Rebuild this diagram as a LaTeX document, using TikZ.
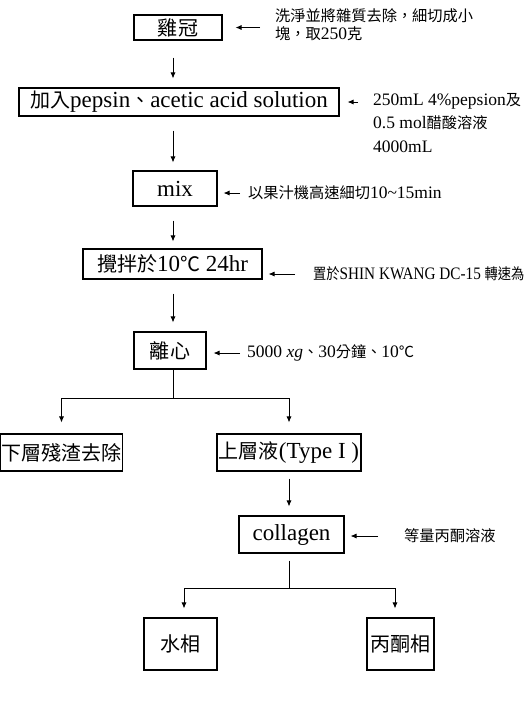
\documentclass[tikz,border=0pt]{standalone}
\usepackage{fontspec}
\setmainfont{Liberation Serif}
\newfontfamily\cjk[Scale=0.87]{Noto Sans CJK TC}
\usetikzlibrary{arrows.meta}
\tikzset{
  box/.style={draw, line width=1.1pt, inner sep=0pt, font=\fontsize{23}{26}\selectfont},
  note/.style={anchor=west, inner sep=0pt, align=left, font=\fontsize{17.5}{18}\selectfont},
  arr/.style={-{Latex[length=6pt,width=5pt]}, line width=0.8pt},
  ln/.style={line width=0.8pt}
}
\begin{document}
\begin{tikzpicture}[x=1pt,y=-1pt]
\useasboundingbox (0,0) rectangle (523,705);

% main chain
\node[box, minimum width=88pt, minimum height=25pt] (jg) at (178,27.5) {{\cjk 雞冠}};
\node[box, minimum width=320pt, minimum height=28pt] (jr) at (179,102) {{\cjk 加入}pepsin{\cjk 、}acetic acid solution};
\node[box, minimum width=84pt, minimum height=35pt] (mx) at (175,188.5) {mix};
\node[box, minimum width=179pt, minimum height=30pt] (jb) at (172.5,264) {{\cjk 攪拌於}10{\cjk ℃} 24hr};
\node[box, minimum width=72pt, minimum height=37pt] (lx) at (170,350.5) {{\cjk 離心}};
\node[box, minimum width=122pt, minimum height=37pt] (xc) at (61.5,452.5) {{\cjk 下層殘渣去除}};
\node[box, minimum width=144pt, minimum height=37pt] (sc) at (289,452.5) {{\cjk 上層液}(Type I )};
\node[box, minimum width=105pt, minimum height=37pt] (cg) at (291.5,534.5) {collagen};
\node[box, minimum width=73pt, minimum height=52pt] (ws) at (180.5,644) {{\cjk 水相}};
\node[box, minimum width=67pt, minimum height=52pt] (bt) at (400.5,644) {{\cjk 丙酮相}};

% side notes
\node[note] (nt1) at (275,24.5) {{\cjk 洗淨並將雜質去除，細切成小}\\{\cjk 塊，取}250{\cjk 克}};
\node[note, font=\fontsize{17.5}{23.5}\selectfont] (nt2) at (373,123) {250mL 4\%pepsion{\cjk 及}\\0.5 mol{\cjk 醋酸溶液}\\4000mL};
\node[note] (nt3) at (248,193) {{\cjk 以果汁機高速細切}10\textasciitilde15min};
\node[note] (nt4) at (313,274) {\scalebox{0.87}[1]{{\cjk 置於}SHIN KWANG DC-15 {\cjk 轉速為}}};
\node[note] (nt5) at (247,353) {5000 \textit{xg}{\cjk 、}30{\cjk 分鐘、}10{\cjk ℃}};
\node[note] (nt6) at (404,536) {{\cjk 等量丙酮溶液}};

\coordinate (sp) at (173,0);
\coordinate (b1) at (173,398);
\coordinate (b2) at (289,588);

% arrows down
\draw[arr, shorten <=17pt, shorten >=9pt] (jg.south -| sp) -- (jr.north -| sp);
\draw[arr, shorten <=14pt, shorten >=8pt] (jr.south -| sp) -- (mx.north -| sp);
\draw[arr, shorten <=14pt, shorten >=7pt] (mx.south -| sp) -- (jb.north -| sp);
\draw[arr, shorten <=14pt, shorten >=9pt] (jb.south -| sp) -- (lx.north -| sp);
\draw[ln] (lx.south -| b1) -- (b1);
\draw[arr, shorten >=11pt] (b1) -| (xc.north);
\draw[arr, shorten >=11pt] (b1) -| (sc.north);
\draw[arr, shorten <=7pt, shorten >=9pt] (sc.south) -- (cg.north -| sc.south);
\draw[ln, shorten <=7pt] (cg.south -| b2) -- (b2);
\draw[arr, shorten >=9pt] (b2) -| ([xshift=3.5pt]ws.north);
\draw[arr, shorten >=9pt] (b2) -| ([xshift=-5.5pt]bt.north);

% arrows from notes
\draw[arr, shorten <=15pt, shorten >=13pt] (nt1.west |- jg.east) -- (jg.east);
\draw[arr, shorten <=15pt, shorten >=8pt] (nt2.west |- jr.east) -- (jr.east);
\draw[arr, shorten <=8pt, shorten >=6pt] (nt3.west) -- (nt3.west -| mx.east);
\draw[arr, shorten <=18pt, shorten >=6pt] (nt4.west) -- (nt4.west -| jb.east);
\draw[arr, shorten <=7pt, shorten >=7pt] (nt5.west) -- (nt5.west -| lx.east);
\draw[arr, shorten <=26pt, shorten >=6pt] (nt6.west) -- (nt6.west -| cg.east);
\end{tikzpicture}
\end{document}
